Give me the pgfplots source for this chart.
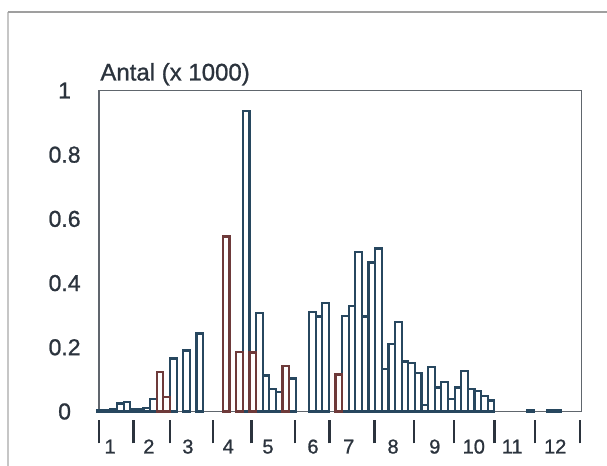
\documentclass[border=0pt]{standalone}
\usepackage{fontspec}
\setmainfont{Liberation Sans}[AutoFakeBold=1]
\usepackage{pgfplots}
\pgfplotsset{compat=1.18}
\definecolor{barblue}{HTML}{27475F}
\definecolor{barred}{HTML}{6E3A3A}
\definecolor{ink}{HTML}{2B333D}

% histogram bins, x = bin centre
\pgfplotstableread{
x     y
0.5   0.004
1.5   0.004
2.5   0.006
3.5   0.025
4.5   0.029
5.5   0.008
6.5   0.006
7.5   0.010
8.5   0.040
11.5  0.165
13.5  0.190
15.5  0.243
22.5  0.935
24.5  0.308
25.5  0.112
26.5  0.071
27.5  0.060
29.5  0.103
32.5  0.310
33.5  0.296
34.5  0.338
37.5  0.298
38.5  0.329
39.5  0.498
40.5  0.296
41.5  0.464
42.5  0.508
43.5  0.132
44.5  0.210
45.5  0.279
46.5  0.156
47.5  0.150
48.5  0.120
49.5  0.019
50.5  0.138
51.5  0.075
52.5  0.093
53.5  0.039
54.5  0.075
55.5  0.125
56.5  0.070
57.5  0.065
58.5  0.048
59.5  0.034
65.5  0.003
68.5  0.003
69.5  0.003
}\bluebins
\pgfplotstableread{
x     y
9.5   0.124
10.5  0.045
19.5  0.545
21.5  0.186
23.5  0.184
28.5  0.141
36.5  0.115
}\redbins

\begin{document}
\begin{tikzpicture}[x=1pt,y=1pt]
\useasboundingbox (-49.5,-27.25) rectangle (254,205.75);
\draw[gray!45, line width=0.6pt] (-45.5,-27.25) -- (-45.5,199.75);
\draw[gray!75, line width=0.8pt] (-45.5,199.75) -- (254,199.75);
\begin{axis}[
    at={(0,0)}, anchor=south west,
    scale only axis,
    width=241.35pt, height=160.5pt,
    xmin=0.27, xmax=73.2,
    ymin=0, ymax=1,
    clip=false,
    axis line style={draw=ink!75, line width=0.7pt},
    xtick pos=bottom, ytick pos=left,
    major tick length=0pt,
    ytick={0,0.2,0.4,0.6,0.8,1},
    yticklabels={0,0.2,0.4,0.6,0.8,1},
    y tick label style={anchor=east, inner sep=0pt, text width=16pt,
        align=center, xshift=-9pt,
        font=\fontsize{11.5}{13}\selectfont\bfseries, text=ink},
    xtick={1.95,7.8,13.7,19.8,25.8,32.6,38.0,44.7,51.0,56.9,62.7,69.2},
    xticklabels={1,2,3,4,5,6,7,8,9,10,11,12},
    x tick label style={anchor=base, inner sep=0pt, yshift=-21pt,
        font=\fontsize{10}{11}\selectfont\bfseries, text=ink},
    extra x ticks={0.3,5.48,11.0,17.5,23.3,29.9,35.1,41.9,47.9,53.9,60.0,66.1,72.9},
    extra x tick labels={},
    extra x tick style={tick align=outside, major tick length=11.5pt,
        tick style={draw=ink, line width=1.2pt, yshift=-4.5pt}},
]
\addplot[ybar, bar width=1, bar shift=0pt, draw=barblue, fill=white, line width=1.1pt]
    table[x=x, y=y] {\bluebins};
\addplot[ybar, bar width=1, bar shift=0pt, draw=barred, fill=white, line width=1.1pt]
    table[x=x, y=y] {\redbins};
\node[anchor=base west, inner sep=0pt, xshift=0.5pt,
      font=\fontsize{12}{14}\selectfont\bfseries, text=ink]
    at ([yshift=5pt]axis description cs:0,1) {Antal (x 1000)};
\end{axis}
\end{tikzpicture}
\end{document}
